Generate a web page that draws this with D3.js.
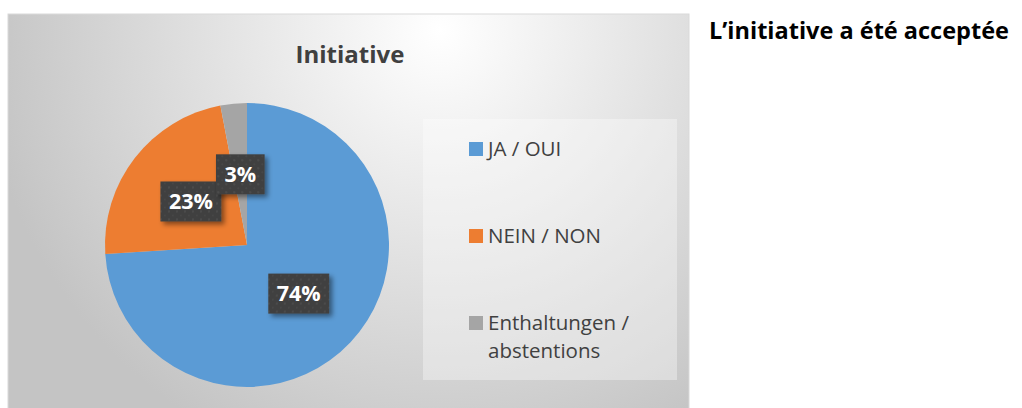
<!DOCTYPE html>
<html>
<head>
<meta charset="utf-8">
<script src="https://cdn.jsdelivr.net/npm/d3@7"></script>
<style>
  html, body { margin: 0; padding: 0; background: #fff; }
  svg { display: block; }
</style>
</head>
<body>
<div id="chart"></div>
<script>
// Chart data
const categories = ['JA / OUI', 'NEIN / NON', 'Enthaltungen / abstentions'];
const legendLines = [['JA / OUI'], ['NEIN / NON'], ['Enthaltungen /', 'abstentions']];
const values = [74, 23, 3];
const colors = ['#5b9bd5', '#ed7d31', '#a5a5a5'];
const chartTitle = 'Initiative';
const sideNote = 'L\u2019initiative a été acceptée';

const width = 1022, height = 408;
const font = '"Open Sans", Lato, sans-serif';

const svg = d3.select('#chart').append('svg')
    .attr('width', width)
    .attr('height', height);

const defs = svg.append('defs');

// soft grey radial background like the office chart style
const bg = defs.append('radialGradient')
    .attr('id', 'bgGrad')
    .attr('gradientUnits', 'userSpaceOnUse')
    .attr('cx', 440).attr('cy', 30)
    .attr('r', 460);
bg.append('stop').attr('offset', '0%').attr('stop-color', '#ffffff');
bg.append('stop').attr('offset', '100%').attr('stop-color', '#c4c4c4');

// dotted pattern for the label boxes
const pat = defs.append('pattern')
    .attr('id', 'dots')
    .attr('patternUnits', 'userSpaceOnUse')
    .attr('width', 8).attr('height', 8);
pat.append('rect').attr('width', 8).attr('height', 8).attr('fill', '#404040');
pat.append('circle').attr('cx', 2).attr('cy', 2).attr('r', 0.8).attr('fill', '#5a5a5a');
pat.append('circle').attr('cx', 6).attr('cy', 6).attr('r', 0.8).attr('fill', '#4e4e4e');

const shadow = defs.append('filter')
    .attr('id', 'shadow')
    .attr('x', '-30%').attr('y', '-30%')
    .attr('width', '170%').attr('height', '170%');
shadow.append('feDropShadow')
    .attr('dx', 3).attr('dy', 3)
    .attr('stdDeviation', 2.5)
    .attr('flood-color', '#000')
    .attr('flood-opacity', 0.45);

// chart area
const area = { x: 8, y: 14, w: 681, h: 410 };
svg.append('rect')
    .attr('x', area.x).attr('y', area.y)
    .attr('width', area.w).attr('height', area.h)
    .attr('fill', 'url(#bgGrad)')
    .attr('stroke', '#d9d9d9');

svg.append('text')
    .attr('x', 350).attr('y', 63)
    .attr('text-anchor', 'middle')
    .style('font-family', font)
    .style('font-weight', 'bold')
    .style('font-size', '24px')
    .attr('fill', '#404040')
    .text(chartTitle);

// pie
const cx = 247, cy = 245, radius = 142;
const pie = d3.pie().sort(null).value(d => d);
const arc = d3.arc().innerRadius(0).outerRadius(radius);
const arcs = pie(values);

const pieG = svg.append('g').attr('transform', `translate(${cx},${cy})`);
pieG.selectAll('path.slice')
    .data(arcs)
    .join('path')
    .attr('class', 'slice')
    .attr('d', arc)
    .attr('fill', (d, i) => colors[i]);

// legend box
const legendBox = { x: 423, y: 119, w: 254, h: 261 };
svg.append('rect')
    .attr('x', legendBox.x).attr('y', legendBox.y)
    .attr('width', legendBox.w).attr('height', legendBox.h)
    .attr('fill', '#ffffff')
    .attr('fill-opacity', 0.35);

const legendY = d3.scalePoint()
    .domain(categories)
    .range([149, 323]);

const legend = svg.append('g')
    .selectAll('g')
    .data(categories)
    .join('g')
    .attr('transform', d => `translate(469,${legendY(d)})`);

legend.append('rect')
    .attr('x', 0).attr('y', -7)
    .attr('width', 14).attr('height', 14)
    .attr('fill', (d, i) => colors[i]);

legend.append('text')
    .style('font-family', font)
    .style('font-size', '20.5px')
    .attr('fill', '#404040')
    .selectAll('tspan')
    .data((d, i) => legendLines[i])
    .join('tspan')
    .attr('x', 19)
    .attr('y', (d, j) => 7 + j * 28)
    .text(d => d);

// data labels at slice centroids
const labels = svg.append('g').attr('transform', `translate(${cx},${cy})`)
    .selectAll('g')
    .data(arcs)
    .join('g')
    .attr('transform', d => `translate(${arc.centroid(d)})`);

labels.each(function (d) {
    const g = d3.select(this);
    const t = g.append('text')
        .attr('text-anchor', 'middle')
        .attr('dy', '0.36em')
        .style('font-family', font)
        .style('font-weight', 'bold')
        .style('font-size', '21.5px')
        .attr('fill', '#ffffff')
        .text(d3.format('.0%')(d.data / 100));
    const bw = t.node().getComputedTextLength() + 17;
    const bh = 40;
    g.insert('rect', 'text')
        .attr('x', -bw / 2).attr('y', -bh / 2)
        .attr('width', bw).attr('height', bh)
        .attr('fill', 'url(#dots)')
        .attr('filter', 'url(#shadow)');
});

// note to the right of the chart
svg.append('text')
    .attr('x', 709).attr('y', 39)
    .style('font-family', font)
    .style('font-weight', 'bold')
    .style('font-size', '23.5px')
    .attr('fill', '#000000')
    .text(sideNote);
</script>
</body>
</html>
